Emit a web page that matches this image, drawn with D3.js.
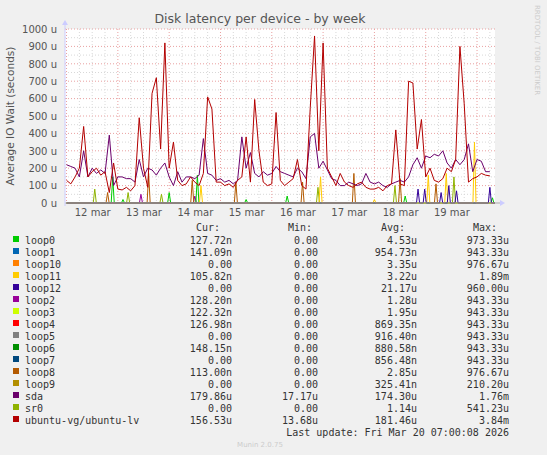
<!DOCTYPE html>
<html>
<head>
<meta charset="UTF-8">
<script src="https://d3js.org/d3.v7.min.js"></script>
<style>
  body { margin: 0; background: #f0f0f0; }
  svg { display: block; }
  text { font-family: "DejaVu Sans", sans-serif; }
  .mono { font-family: "DejaVu Sans Mono", monospace; font-size: 10px; fill: #333; }
</style>
</head>
<body>
<svg width="547" height="455"></svg>
<script>
// values in microseconds, one sample every 2 hours from 12 mar 00:00
const lvValues = [
  130,110,150,200,440,150,180,200,160,180,60,230,
  80,75,90,70,100,490,200,90,630,720,310,920,
  200,350,130,100,110,150,120,100,170,610,540,120,
  120,100,110,90,130,150,380,120,595,300,120,100,
  110,520,130,100,120,140,250,100,80,550,960,300,
  920,200,150,100,170,120,100,90,110,120,90,80,
  80,90,70,100,110,420,110,100,700,690,310,480,
  150,200,130,120,140,200,180,250,900,570,120,140,
  150,170,160,156
];
const sdaValues = [
  220,210,200,150,300,150,200,170,190,170,390,100,
  150,150,140,140,120,250,150,200,190,160,200,230,
  150,100,180,120,150,150,140,160,370,170,160,130,
  140,120,130,110,130,380,200,290,170,150,180,160,
  170,210,180,170,160,150,200,180,140,380,400,200,
  240,190,140,130,100,100,120,110,100,110,170,120,
  110,120,100,90,110,120,130,120,150,220,260,200,
  270,260,280,270,300,230,200,250,220,250,340,180,
  250,240,180,180
];
// small spikes: [day offset from 12 mar 00:00, value]
const loop0Spikes = [[0.9,150],[1.1,20],[2.0,60],[2.55,160],[3.5,20],[4.3,40],[6.6,40],[8.3,30]];
const loop11Spikes = [[2.62,100],[4.95,150],[6.0,20],[7.05,160],[7.4,170],[7.95,350]];
const loop8Spikes = [[0.8,60],[1.6,170],[2.45,130],[3.3,120],[4.6,120],[5.6,170],[6.5,140],[7.2,110]];
const loop12Spikes = [[6.85,80],[6.98,80],[7.3,60],[7.45,100],[7.6,70],[8.25,90]];
const sr0Spikes = [[0.55,80],[1.2,60],[1.85,50],[4.9,90],[6.4,100],[7.55,150]];
const loop2Spikes = [[1.45,50],[2.5,40]];

const dayLabels = ["12 mar","13 mar","14 mar","15 mar","16 mar","17 mar","18 mar","19 mar"];
const yTicks = [0,100,200,300,400,500,600,700,800,900,1000];

const legendNames = ["loop0","loop1","loop10","loop11","loop12","loop2","loop3","loop4","loop5","loop6","loop7","loop8","loop9","sda","sr0","ubuntu-vg/ubuntu-lv"];
const legendColors = ["#00cc00","#0066b3","#ff8000","#ffcc00","#330099","#990099","#ccff00","#ff0000","#808080","#008f00","#00487d","#b35a00","#b38f00","#6b006b","#8fb300","#b30000"];
const curVals = ["127.72n","141.09n","0.00","105.82n","0.00","128.20n","122.32n","126.98n","0.00","148.15n","0.00","113.00n","0.00","179.86u","0.00","156.53u"];
const minVals = ["0.00","0.00","0.00","0.00","0.00","0.00","0.00","0.00","0.00","0.00","0.00","0.00","0.00","17.17u","0.00","13.68u"];
const avgVals = ["4.53u","954.73n","3.35u","3.22u","21.17u","1.28u","1.95u","869.35n","916.40n","880.58n","856.48n","2.85u","325.41n","174.30u","1.14u","181.46u"];
const maxVals = ["973.33u","943.33u","976.67u","1.89m","960.00u","943.33u","943.33u","943.33u","943.33u","943.33u","943.33u","976.67u","210.20u","1.76m","541.23u","3.84m"];

const svg = d3.select("svg");
const pLeft = 65, pRight = 495, pTop = 29, pBottom = 203;
const x = d3.scaleLinear().domain([-0.03, 8.35]).range([pLeft, pRight]);
const y = d3.scaleLinear().domain([0, 1000]).range([pBottom, pTop]);

const plot = svg.append("g");
plot.append("rect").attr("x", pLeft).attr("y", pTop).attr("width", pRight - pLeft).attr("height", pBottom - pTop).attr("fill", "#fff");

// grid
for (let v = 50; v <= 1000; v += 50) {
  plot.append("line").attr("x1", pLeft).attr("x2", pRight).attr("y1", y(v)).attr("y2", y(v))
    .attr("stroke", v % 100 === 0 ? "#e9a0a0" : "#d8d8d8").attr("stroke-dasharray", "1,2").attr("stroke-width", 1);
}
for (let d = 0; d <= 8.3; d += 0.25) {
  const major = Math.abs(d - Math.round(d)) < 1e-6;
  plot.append("line").attr("x1", x(d)).attr("x2", x(d)).attr("y1", pTop).attr("y2", pBottom)
    .attr("stroke", major ? "#e9a0a0" : "#d8d8d8").attr("stroke-dasharray", "1,2");
}

const line = d3.line().x(d => x(d[0])).y(d => y(d[1]));
function spikeSeries(spikes) {
  const pts = [[0, 0]];
  spikes.forEach(s => { pts.push([s[0] - 0.03, 0], [s[0], s[1]], [s[0] + 0.03, 0]); });
  pts.push([8.35, 0]);
  return pts;
}
[[loop2Spikes, "#990099"], [sr0Spikes, "#8fb300"], [loop8Spikes, "#b35a00"], [loop0Spikes, "#00cc00"],
 [loop11Spikes, "#ffcc00"], [loop12Spikes, "#330099"]].forEach(([s, c]) => {
  plot.append("path").attr("d", line(spikeSeries(s))).attr("fill", "none").attr("stroke", c).attr("stroke-width", 1);
});
const step = 1 / 12;
plot.append("path").attr("d", line(sdaValues.map((v, i) => [i * step, v])))
  .attr("fill", "none").attr("stroke", "#6b006b").attr("stroke-width", 1);
plot.append("path").attr("d", line(lvValues.map((v, i) => [i * step, v])))
  .attr("fill", "none").attr("stroke", "#b30000").attr("stroke-width", 1);

// axes
const yAxis = svg.append("g").attr("transform", `translate(${pLeft},0)`)
  .call(d3.axisLeft(y).tickValues(yTicks).tickSize(0).tickPadding(8).tickFormat(d => d + " u"));
yAxis.select(".domain").remove();
yAxis.selectAll("text").attr("fill", "#555").style("font-size", "10px");
const xAxis = svg.append("g").attr("transform", `translate(0,${pBottom})`)
  .call(d3.axisBottom(x).tickValues(d3.range(0.5, 8, 1)).tickSize(0).tickPadding(6).tickFormat((d, i) => dayLabels[i]));
xAxis.select(".domain").remove();
xAxis.selectAll("text").attr("fill", "#555").style("font-size", "10px");
svg.append("line").attr("x1", pLeft).attr("x2", pRight + 5).attr("y1", pBottom).attr("y2", pBottom).attr("stroke", "#aaa");
svg.append("line").attr("x1", pLeft).attr("x2", pLeft).attr("y1", pTop - 6).attr("y2", pBottom + 3).attr("stroke", "#ccf");
svg.append("path").attr("d", `M${pRight + 5},${pBottom - 3}L${pRight + 10},${pBottom}L${pRight + 5},${pBottom + 3}Z`).attr("fill", "#ccf");
svg.append("path").attr("d", `M${pLeft - 3},${pTop - 4}L${pLeft},${pTop - 9}L${pLeft + 3},${pTop - 4}Z`).attr("fill", "#ccf");

svg.append("text").attr("x", 260).attr("y", 23).attr("text-anchor", "middle").attr("fill", "#555").style("font-size", "12.5px").text("Disk latency per device - by week");
svg.append("text").attr("transform", "translate(14,116) rotate(-90)").attr("text-anchor", "middle").attr("fill", "#555").style("font-size", "10.5px").text("Average IO Wait (seconds)");
svg.append("text").attr("transform", "translate(535,5) rotate(90)").attr("fill", "#ccc").style("font-size", "7px").text("RRDTOOL / TOBI OETIKER");

// legend
const heads = [["Cur:", 220], ["Min:", 312], ["Avg:", 405], ["Max:", 497]];
heads.forEach(h => svg.append("text").attr("class", "mono").attr("x", h[1]).attr("y", 231).attr("text-anchor", "end").text(h[0]));
const cols = [[curVals, 232], [minVals, 318], [avgVals, 417], [maxVals, 509]];
legendNames.forEach((n, i) => {
  const yy = 243.5 + i * 12;
  svg.append("rect").attr("x", 13).attr("y", yy - 7.5).attr("width", 6).attr("height", 6).attr("fill", legendColors[i]);
  svg.append("text").attr("class", "mono").attr("x", 25).attr("y", yy).text(n);
  cols.forEach(c => svg.append("text").attr("class", "mono").attr("x", c[1]).attr("y", yy).attr("text-anchor", "end").text(c[0][i]));
});
svg.append("text").attr("class", "mono").attr("x", 509).attr("y", 435.5).attr("text-anchor", "end").text("Last update: Fri Mar 20 07:00:08 2026");
svg.append("text").attr("x", 260).attr("y", 447).attr("text-anchor", "middle").attr("fill", "#ccc").style("font-size", "7px").text("Munin 2.0.75");
</script>
</body>
</html>
